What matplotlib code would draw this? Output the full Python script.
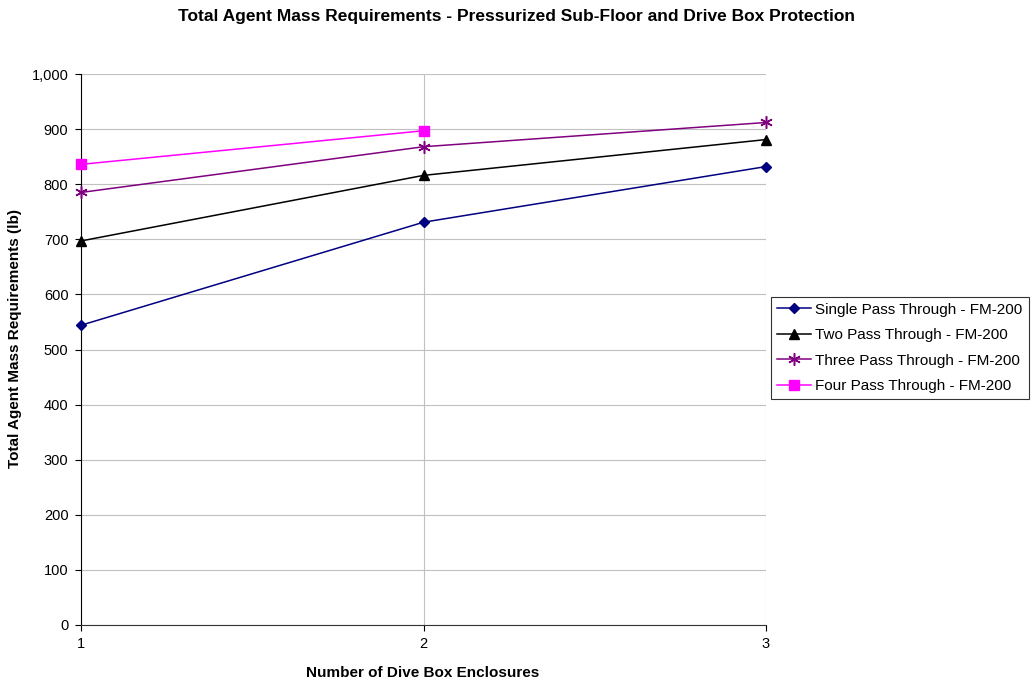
import matplotlib
matplotlib.use("Agg")
import matplotlib.pyplot as plt
from matplotlib.ticker import FuncFormatter

plt.rcParams['font.family'] = ['Liberation Sans', 'DejaVu Sans']

enclosures = [1, 2, 3]
single = [544, 731, 832]
two = [697, 816, 881]
three = [785, 868, 912]
four = [836, 897]
labels = ["Single Pass Through - FM-200", "Two Pass Through - FM-200",
          "Three Pass Through - FM-200", "Four Pass Through - FM-200"]

fig = plt.figure(figsize=(10.34, 6.86), dpi=100)
ax = fig.add_axes([81/1034, 1-625/686, (766-81)/1034, (625-74)/686])

kw = dict(lw=1.1, clip_on=False, zorder=3)
ax.plot(enclosures, single, color='#000080', marker='D', markersize=5.5, label=labels[0], **kw)
ax.plot(enclosures, two, color='black', marker='^', markersize=7, label=labels[1], **kw)
ax.plot(enclosures, three, color='#800080', marker=(6, 2, 0), markersize=9, mew=1.1, label=labels[2], **kw)
ax.plot(enclosures[:2], four, color='#FF00FF', marker='s', markersize=6.5, label=labels[3], **kw)

ax.set_xlim(1, 3)
ax.set_ylim(0, 1000)
ax.set_xticks(enclosures)
ax.set_yticks(range(0, 1001, 100))
ax.yaxis.set_major_formatter(FuncFormatter(lambda v, p: f"{int(v):,}"))
ax.grid(True, color='#c0c0c0', lw=0.8)
ax.set_axisbelow(True)
for s in ['top', 'right']:
    ax.spines[s].set_visible(False)
ax.spines['left'].set_color('black')
ax.spines['bottom'].set_color('#333333')
ax.tick_params(axis='both', labelsize=10.5, direction='out', length=4, color='black')
ax.tick_params(axis='x', pad=5)
ax.tick_params(axis='y', pad=5)

fig.text(423/1034, 1-673/686, "Number of Dive Box Enclosures", fontsize=11, fontweight='bold',
         ha='center', va='center')
fig.text(15/1034, 1-338/686, "Total Agent Mass Requirements (lb)", fontsize=11, fontweight='bold',
         ha='center', va='center', rotation=90)
fig.text(516/1034, 1-17/686, "Total Agent Mass Requirements - Pressurized Sub-Floor and Drive Box Protection",
         ha='center', va='center', fontsize=12.5, fontweight='bold')

leg = fig.legend(loc='center left', bbox_to_anchor=(771/1034, 1-348/686), fontsize=11,
                 frameon=True, fancybox=False, edgecolor='black', handlelength=2.2,
                 handletextpad=0.3, borderpad=0.4, labelspacing=0.75, borderaxespad=0)
leg.get_frame().set_linewidth(0.8)

fig.savefig("out.png", dpi=100)
